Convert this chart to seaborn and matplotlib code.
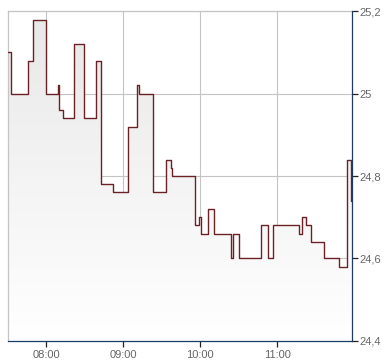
import matplotlib
matplotlib.use("Agg")
import matplotlib.pyplot as plt
import numpy as np
import pandas as pd
import seaborn as sns
from matplotlib.colors import LinearSegmentedColormap

# minutes since midnight
times = [450.4, 452.3, 466.0, 469.4, 480.0, 489.4, 490.1, 493.2, 501.6, 509.6,
         518.5, 522.9, 531.7, 543.4, 550.9, 552.5, 563.4, 573.0, 577.4, 578.2,
         596.1, 599.2, 600.5, 605.7, 611.0, 623.7, 625.3, 630.4, 647.5, 652.8,
         656.7, 676.7, 679.5, 682.4, 686.5, 696.2, 708.3, 714.6, 717.7, 718.4]
prices = [25.10, 25.00, 25.08, 25.18, 25.00, 25.02, 24.96, 24.94, 25.12, 24.94,
          25.08, 24.78, 24.76, 24.92, 25.02, 25.00, 24.76, 24.84, 24.82, 24.80,
          24.68, 24.70, 24.66, 24.72, 24.66, 24.60, 24.66, 24.60, 24.68, 24.60,
          24.68, 24.66, 24.70, 24.68, 24.64, 24.60, 24.58, 24.84, 24.74, 24.74]
x_ticks = [480, 540, 600, 660]
x_labels = ["08:00", "09:00", "10:00", "11:00"]
y_ticks = [24.4, 24.6, 24.8, 25.0, 25.2]
y_labels = ["24,4", "24,6", "24,8", "25", "25,2"]

df = pd.DataFrame({"t": times, "p": prices})

sns.set_style("white")
plt.rcParams["font.family"] = ["Liberation Sans", "DejaVu Sans"]

fig = plt.figure(figsize=(3.9, 3.64), dpi=100)
ax = fig.add_axes([8.3 / 390, 1 - 340.7 / 364, (352.3 - 8.3) / 390, (340.7 - 11.3) / 364])

xmin, xmax = 450.4, 718.4
ymin, ymax = 24.4, 25.2

# gradient fill under the step line
poly = ax.fill_between(df["t"], df["p"], ymin, step="post", facecolor="none", edgecolor="none")
cmap = LinearSegmentedColormap.from_list("g", ["#ffffff", "#e8e8e8"])
grad = np.linspace(0, 1, 256).reshape(-1, 1)
im = ax.imshow(grad, extent=[xmin, xmax, ymin, ymax], origin="lower", aspect="auto",
               cmap=cmap, zorder=1)
path = poly.get_paths()[0]
im.set_clip_path(path, transform=ax.transData)

sns.lineplot(data=df, x="t", y="p", ax=ax, drawstyle="steps-post", color="#6b2227",
             linewidth=1.0, zorder=3)

ax.set_xlim(xmin, xmax)
ax.set_ylim(ymin, ymax)
ax.set_xticks(x_ticks)
ax.set_xticklabels(x_labels)
ax.yaxis.tick_right()
ax.set_yticks(y_ticks)
ax.set_yticklabels(y_labels)
ax.set_xlabel("")
ax.set_ylabel("")

ax.grid(True, color="#c4c4c4", linewidth=0.8, zorder=0)
ax.set_axisbelow(True)

navy = "#1d3a66"
ax.spines["right"].set_color(navy)
ax.spines["bottom"].set_color(navy)
ax.spines["left"].set_color("#c4c4c4")
ax.spines["top"].set_color("#c4c4c4")
for s in ax.spines.values():
    s.set_linewidth(0.9)
    s.set_visible(True)
ax.spines["right"].set_zorder(4)

ax.tick_params(axis="both", which="both", direction="out", length=4, width=0.9,
               color="#222222", labelcolor="#666666", labelsize=8, pad=2)
ax.tick_params(axis="y", right=True, left=False, pad=1)
ax.tick_params(axis="x", bottom=True, pad=2.5)

fig.savefig("out.png", dpi=100)
